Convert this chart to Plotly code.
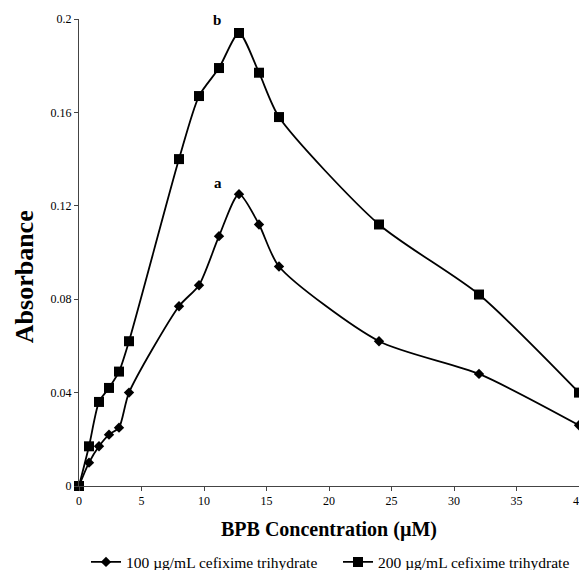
import plotly.graph_objects as go

conc = [0, 0.8, 1.6, 2.4, 3.2, 4, 8, 9.6, 11.2, 12.8, 14.4, 16, 24, 32, 40]
abs_100 = [0, 0.010, 0.017, 0.022, 0.025, 0.040, 0.077, 0.086, 0.107, 0.125, 0.112, 0.094, 0.062, 0.048, 0.026]
abs_200 = [0, 0.017, 0.036, 0.042, 0.049, 0.062, 0.140, 0.167, 0.179, 0.194, 0.177, 0.158, 0.112, 0.082, 0.040]
series_names = ["100 µg/mL cefixime trihydrate", "200 µg/mL cefixime trihydrate"]
y_ticks = [0, 0.04, 0.08, 0.12, 0.16, 0.2]
y_ticktext = ["0", "0.04", "0.08", "0.12", "0.16", "0.2"]
x_ticks = [0, 5, 10, 15, 20, 25, 30, 35, 40]

FONT = "Liberation Serif, Times New Roman, serif"

fig = go.Figure()
fig.add_trace(go.Scatter(
    x=conc, y=abs_100, name=series_names[0], mode="lines+markers",
    line=dict(color="black", width=1.8, shape="spline", smoothing=0.7),
    marker=dict(symbol="diamond", size=8, color="black"), cliponaxis=False))
fig.add_trace(go.Scatter(
    x=conc, y=abs_200, name=series_names[1], mode="lines+markers",
    line=dict(color="black", width=1.8, shape="spline", smoothing=0.7),
    marker=dict(symbol="square", size=10, color="black"), cliponaxis=False))

fig.add_annotation(x=11.1, y=0.1297, text="<b>a</b>", showarrow=False,
                   font=dict(family=FONT, size=15, color="black"))
fig.add_annotation(x=11.0, y=0.1997, text="<b>b</b>", showarrow=False,
                   font=dict(family=FONT, size=15, color="black"))

# axis titles
fig.add_annotation(xref="paper", yref="paper", x=-0.11, y=(486 - 277) / 467.5,
                   text="<b>Absorbance</b>", textangle=-90, showarrow=False,
                   xanchor="center", yanchor="middle",
                   font=dict(family=FONT, size=26, color="black"))
fig.add_annotation(xref="paper", yref="paper", x=0.5, y=-(530 - 486) / 467.5,
                   text="<b>BPB Concentration (µM)</b>", showarrow=False,
                   xanchor="center", yanchor="middle",
                   font=dict(family=FONT, size=20, color="black"))

# the page body adds an 8px margin, so the figure is 8px smaller each way
fig.update_layout(
    width=579, height=562,
    margin=dict(l=71, r=8, t=10.5, b=84, autoexpand=False),
    paper_bgcolor="white", plot_bgcolor="white",
    font=dict(family=FONT, size=12, color="black"),
    showlegend=True,
    legend=dict(orientation="h", x=0.014, xanchor="left", y=-0.127, yanchor="top",
                font=dict(family=FONT, size=15.5, color="black"), itemwidth=30,
                entrywidth=207, entrywidthmode="pixels",
                tracegroupgap=0),
    xaxis=dict(range=[0, 40], tickvals=x_ticks, showgrid=False, zeroline=False,
               showline=True, linecolor="#444", linewidth=1, ticks="outside",
               ticklen=4, tickcolor="#444", tickfont=dict(size=12), automargin=False),
    yaxis=dict(range=[0, 0.2], tickvals=y_ticks, ticktext=y_ticktext, showgrid=False,
               zeroline=False, showline=True, linecolor="#444", linewidth=1,
               ticks="outside", ticklen=4, tickcolor="#444", tickfont=dict(size=12),
               automargin=False),
)

fig.write_html("out.html")
